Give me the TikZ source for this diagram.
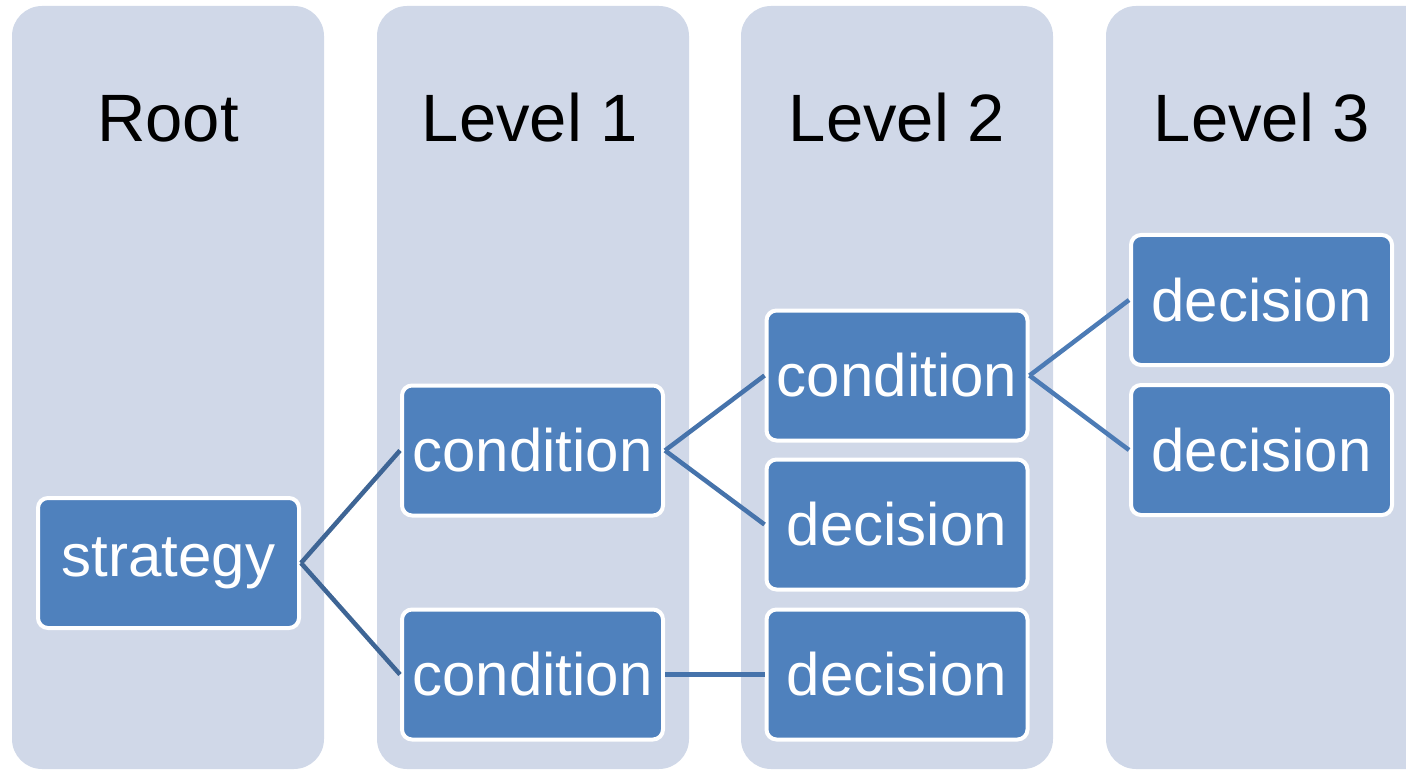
\documentclass[tikz,border=0pt]{standalone}
\usepackage{fontspec}
\setmainfont{Liberation Sans}
\definecolor{colbg}{HTML}{D0D8E8}
\definecolor{boxfill}{HTML}{4F81BD}
\definecolor{lineA}{HTML}{3E6595}
\definecolor{lineB}{HTML}{4673AB}
\definecolor{lineC}{HTML}{4C7BB5}
\begin{document}
\begin{tikzpicture}[x=1pt,y=-1pt,
  column/.style={fill=colbg, rounded corners=30pt},
  box/.style={draw=white, line width=4pt, fill=boxfill, rounded corners=10pt,
    minimum width=261pt, minimum height=130pt, inner sep=0pt, text=white,
    font=\fontsize{60}{72}\selectfont},
  header/.style={font=\fontsize{67}{80}\selectfont, anchor=base, inner sep=0pt},
  conn/.style={line width=4.5pt}]
\clip (0,0) rectangle (1406,770);
% columns
\fill[column] (12,6) rectangle (324,769);
\fill[column] (377,6) rectangle (689,769);
\fill[column] (741,6) rectangle (1053,769);
\fill[column] (1106,6) rectangle (1440,769);
% headers
\node[header] (h0) at (168,142) {Root};
\node[header] (h1) at (530,142) {Level 1};
\node[header] (h2) at (897,142) {Level 2};
\node[header] (h3) at (1262,142) {Level 3};
% boxes
\node[box] (s)  at (168.5,563) {strategy};
\node[box] (c1) at (532.5,450.5) {condition};
\node[box] (c2) at (532.5,674.5) {condition};
\node[box] (c3) at (897,375.5) {condition};
\node[box] (d1) at (897,524.5) {decision};
\node[box] (d2) at (897,674.5) {decision};
\node[box] (d3) at (1261.5,300) {decision};
\node[box] (d4) at (1261.5,450) {decision};
% connectors
\draw[conn, lineA] (s.east) -- (c1.west);
\draw[conn, lineA] (s.east) -- (c2.west);
\draw[conn, lineB] (c1.east) -- (c3.west);
\draw[conn, lineB] (c1.east) -- (d1.west);
\draw[conn, lineB] (c2.east) -- (d2.west);
\draw[conn, lineC] (c3.east) -- (d3.west);
\draw[conn, lineC] (c3.east) -- (d4.west);
\end{tikzpicture}
\end{document}
